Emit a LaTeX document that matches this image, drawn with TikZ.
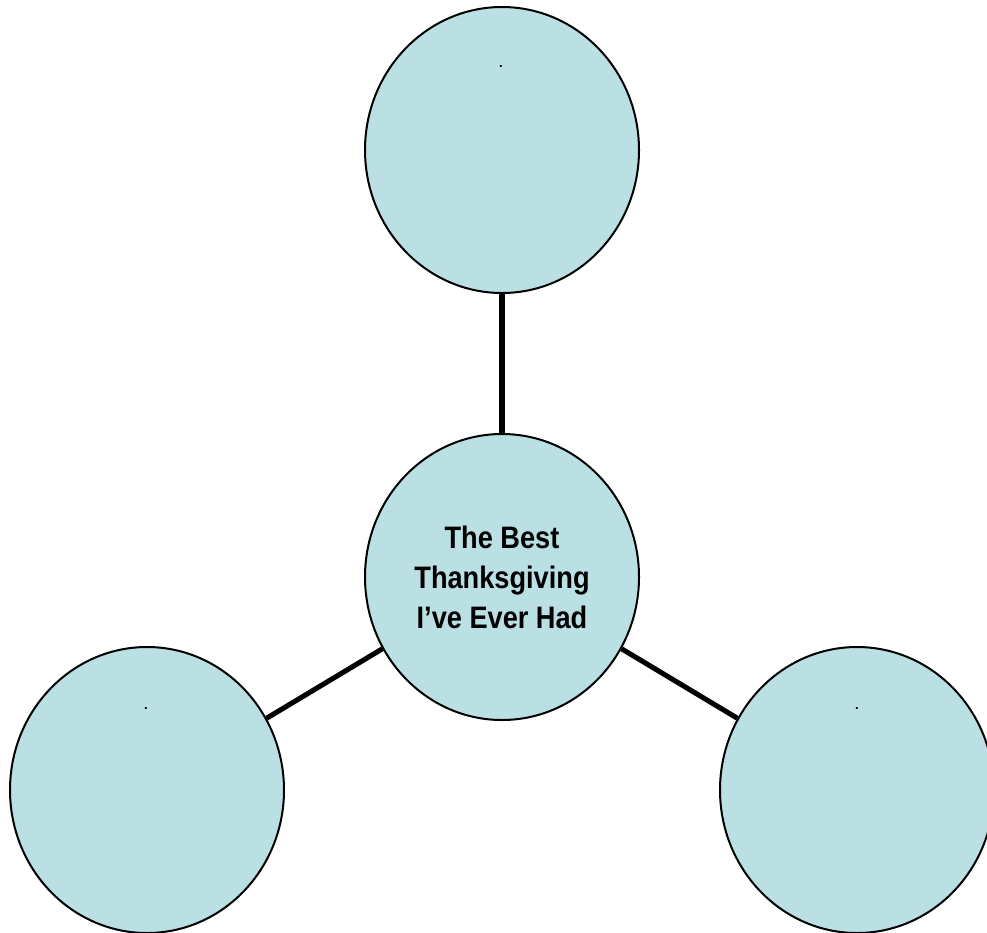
\documentclass[tikz,border=0pt]{standalone}
\usepackage{fontspec}
\setmainfont{Liberation Sans}
\newfontfamily\hubfont[FakeStretch=0.875]{Liberation Sans}
\usetikzlibrary{shapes.geometric}
\definecolor{WebFill}{HTML}{BBE0E3}
\begin{document}
\begin{tikzpicture}[x=0.75pt,y=-0.75pt,
  bubble/.style={ellipse,draw=black,line width=1.5pt,fill=WebFill,inner sep=0pt,
    minimum width=205.5pt,minimum height=214.5pt},
  spoke/.style={line width=3.8pt,black},
  dotmark/.style={font=\bfseries\fontsize{10}{10}\selectfont,inner sep=0pt}]
\clip (0,0) rectangle (987,932);
\fill[white] (0,0) rectangle (987,932);
% Hub and the three outer bubbles
\node[bubble,align=center,font=\hubfont\bfseries\fontsize{23.3}{30}\selectfont] (hub) at (502,577) {The Best\\Thanksgiving\\I’ve Ever Had};
\node[bubble] (top) at (502,150) {};
\node[bubble] (left) at (147,790) {};
\node[bubble] (right) at (857,790) {};
\node[dotmark] (topdot) at (501,67) {.};
\node[dotmark] (leftdot) at (146,708) {.};
\node[dotmark] (rightdot) at (857,708) {.};
% Spokes
\draw[spoke] (hub) -- (top);
\draw[spoke] (hub) -- (left);
\draw[spoke] (hub) -- (right);
\end{tikzpicture}
\end{document}
